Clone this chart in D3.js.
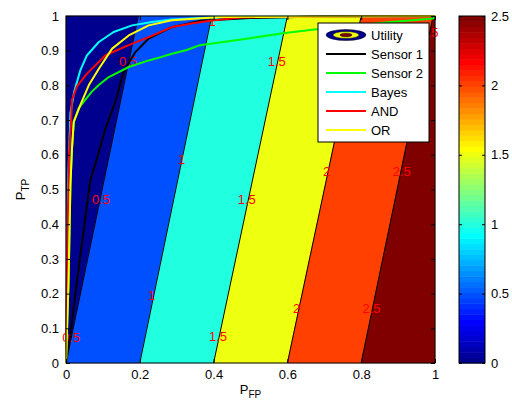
<!DOCTYPE html>
<html>
<head>
<meta charset="utf-8">
<script src="https://cdn.jsdelivr.net/npm/d3@7/dist/d3.min.js"></script>
<style>
  body { margin: 0; background: #fff; }
  text { font-family: "Liberation Sans", Arial, sans-serif; }
</style>
</head>
<body>
<div id="content"></div>
<script>
const levels = [0.5, 1, 1.5, 2, 2.5];
const levelXBottom = [0, 0.2, 0.4, 0.6, 0.8];
const levelXTop = [0.196, 0.395, 0.6, 0.8, 0.995];
const bandValues = [0, 0.5, 1, 1.5, 2, 2.5];

// inline contour labels
const labelText = ["0.5", "0.5", "0.5", "1", "1", "1", "1.5", "1.5", "1.5", "2", "2", "2.5", "2.5", "2.5"];
const labelX = [0.014, 0.095, 0.168, 0.232, 0.313, 0.396, 0.412, 0.49, 0.571, 0.625, 0.706, 0.828, 0.91, 0.985];
const labelY = [0.075, 0.473, 0.87, 0.196, 0.588, 0.985, 0.076, 0.473, 0.868, 0.157, 0.551, 0.157, 0.551, 0.954];

// ROC curves
const sensor1X = [0, 0.0136, 0.03, 0.048, 0.066, 0.084, 0.107, 0.134, 0.156, 0.188, 0.224, 0.26, 0.287, 0.363, 0.499, 0.715, 1];
const sensor1Y = [0, 0.095, 0.239, 0.383, 0.527, 0.59, 0.676, 0.753, 0.839, 0.896, 0.935, 0.954, 0.968, 0.986, 0.994, 0.999, 1];

const sensor2X = [0, 0.007, 0.012, 0.016, 0.021, 0.035, 0.052, 0.07, 0.089, 0.116, 0.17, 0.224, 0.246, 0.287, 0.327, 0.363, 0.499, 0.588, 0.679, 0.851, 0.995, 1];
const sensor2Y = [0, 0.239, 0.513, 0.614, 0.695, 0.735, 0.758, 0.782, 0.801, 0.824, 0.853, 0.872, 0.878, 0.891, 0.902, 0.916, 0.936, 0.95, 0.962, 0.98, 0.993, 1];

const bayesX = [0, 0.005, 0.012, 0.022, 0.039, 0.057, 0.089, 0.129, 0.179, 0.233, 0.287, 0.417, 1];
const bayesY = [0, 0.5, 0.72, 0.781, 0.844, 0.887, 0.925, 0.954, 0.973, 0.983, 0.99, 0.997, 1];

const andX = [0, 0.003, 0.008, 0.014, 0.016, 0.03, 0.057, 0.107, 0.17, 0.224, 0.287, 0.344, 0.39, 0.472, 1];
const andY = [0, 0.3, 0.6, 0.7, 0.758, 0.798, 0.834, 0.887, 0.916, 0.939, 0.968, 0.979, 0.986, 0.996, 1];

const orX = [0, 0.007, 0.012, 0.016, 0.021, 0.039, 0.062, 0.089, 0.125, 0.17, 0.224, 0.287, 0.417, 1];
const orY = [0, 0.239, 0.513, 0.614, 0.695, 0.744, 0.801, 0.848, 0.906, 0.944, 0.973, 0.988, 0.997, 1];

const seriesNames = ["Sensor 1", "Sensor 2", "Bayes", "AND", "OR"];
const seriesColors = ["#000000", "#00ff00", "#00ffff", "#ff0000", "#ffff00"];

const xTicks = [0, 0.2, 0.4, 0.6, 0.8, 1];
const yTicks = [0, 0.1, 0.2, 0.3, 0.4, 0.5, 0.6, 0.7, 0.8, 0.9, 1];
const cbTicks = [0, 0.5, 1, 1.5, 2, 2.5];

// MATLAB style jet(64)
function jet(k) {
    var t = k / 64;
    var c = function (v) { return Math.max(0, Math.min(1, v)); };
    var r = c(Math.min(4 * t - 1.5, -4 * t + 4.5));
    var g = c(Math.min(4 * t - 0.5, -4 * t + 3.5));
    var b = c(Math.min(4 * t + 0.5, -4 * t + 2.5));
    return d3.rgb(r * 255, g * 255, b * 255).formatHex();
}
function valueColor(v) {
    var k = Math.min(64, Math.floor(v / 2.5 * 64) + 1);
    return jet(k);
}

var width = 512, height = 401;
var padding = { top: 16, left: 66, right: 77, bottom: 38 };
var plotW = width - padding.left - padding.right;   // 369
var plotH = height - padding.top - padding.bottom;  // 347

var svg = d3.select("#content").append("svg")
    .attr("width", width)
    .attr("height", height);

var xScale = d3.scaleLinear().domain([0, 1]).range([padding.left, padding.left + plotW]);
var yScale = d3.scaleLinear().domain([0, 1]).range([padding.top + plotH, padding.top]);

// filled contour bands
var bands = [];
for (var i = 0; i < bandValues.length; i++) {
    var left = i == 0 ? [[0, 0], [0, 1]] : [[levelXBottom[i - 1], 0], [levelXTop[i - 1], 1]];
    var right = i == levels.length ? [[1, 1], [1, 0]] : [[levelXTop[i], 1], [levelXBottom[i], 0]];
    bands.push({ v: bandValues[i], pts: left.concat(right) });
}
svg.append("g").selectAll("polygon")
    .data(bands)
    .enter()
    .append("polygon")
    .attr("points", function (d) {
        return d.pts.map(function (p) { return xScale(p[0]) + "," + yScale(p[1]); }).join(" ");
    })
    .attr("fill", function (d) { return valueColor(d.v); })
    .attr("stroke", function (d) { return valueColor(d.v); })
    .attr("stroke-width", 0.5);

// contour lines
svg.append("g").selectAll("line")
    .data(levels)
    .enter()
    .append("line")
    .attr("x1", function (d, i) { return xScale(levelXBottom[i]); })
    .attr("y1", yScale(0))
    .attr("x2", function (d, i) { return xScale(levelXTop[i]); })
    .attr("y2", yScale(1))
    .attr("stroke", "#000")
    .attr("stroke-width", 1);

// contour labels
svg.append("g").selectAll("text")
    .data(labelText)
    .enter()
    .append("text")
    .attr("x", function (d, i) { return xScale(labelX[i]); })
    .attr("y", function (d, i) { return yScale(labelY[i]); })
    .attr("dy", "0.36em")
    .attr("text-anchor", "middle")
    .attr("fill", "#ff0000")
    .style("font-size", "13px")
    .text(function (d) { return d; });

// ROC curves
var curves = [
    { x: sensor1X, y: sensor1Y },
    { x: sensor2X, y: sensor2Y },
    { x: bayesX, y: bayesY },
    { x: andX, y: andY },
    { x: orX, y: orY }
];
var line = d3.line()
    .x(function (d) { return xScale(d[0]); })
    .y(function (d) { return yScale(d[1]); });
svg.append("g").selectAll("path")
    .data(curves)
    .enter()
    .append("path")
    .attr("d", function (d) { return line(d.x.map(function (v, i) { return [v, d.y[i]]; })); })
    .attr("fill", "none")
    .attr("stroke", function (d, i) { return seriesColors[i]; })
    .attr("stroke-width", 2)
    .attr("stroke-linejoin", "round");

// axes (inward ticks, box)
var tickLen = 4;
var xAxis = d3.axisBottom(xScale).tickValues(xTicks).tickSizeInner(-tickLen).tickSizeOuter(0).tickPadding(7)
    .tickFormat(d3.format("~g"));
var xAxisTop = d3.axisTop(xScale).tickValues(xTicks).tickSizeInner(-tickLen).tickSizeOuter(0).tickFormat("");
var yAxis = d3.axisLeft(yScale).tickValues(yTicks).tickSizeInner(-tickLen).tickSizeOuter(0).tickPadding(7)
    .tickFormat(d3.format("~g"));
var yAxisRight = d3.axisRight(yScale).tickValues(yTicks).tickSizeInner(-tickLen).tickSizeOuter(0).tickFormat("");

function styleAxis(g) {
    g.select(".domain").remove();
    g.selectAll("line").attr("stroke", "#000");
    g.selectAll("text").style("font-size", "13px").attr("fill", "#000")
        .style("font-family", "'Liberation Sans', Arial, sans-serif");
}
svg.append("g").attr("transform", "translate(0," + (padding.top + plotH) + ")").call(xAxis).call(styleAxis);
svg.append("g").attr("transform", "translate(0," + padding.top + ")").call(xAxisTop).call(styleAxis);
svg.append("g").attr("transform", "translate(" + padding.left + ",0)").call(yAxis).call(styleAxis);
svg.append("g").attr("transform", "translate(" + (padding.left + plotW) + ",0)").call(yAxisRight).call(styleAxis);

svg.append("rect")
    .attr("x", padding.left).attr("y", padding.top)
    .attr("width", plotW).attr("height", plotH)
    .attr("fill", "none").attr("stroke", "#000").attr("stroke-width", 1);

// axis labels
var xl = svg.append("text")
    .attr("x", xScale(0.5)).attr("y", 394)
    .attr("text-anchor", "middle")
    .style("font-size", "13px");
xl.append("tspan").text("P");
xl.append("tspan").attr("dy", 4).style("font-size", "10px").text("FP");

var yl = svg.append("text")
    .attr("transform", "translate(25," + yScale(0.5) + ") rotate(-90)")
    .attr("text-anchor", "middle")
    .style("font-size", "13px");
yl.append("tspan").text("P");
yl.append("tspan").attr("dy", 4).style("font-size", "10px").text("TP");

// legend
var lg = svg.append("g");
lg.append("rect")
    .attr("x", 318).attr("y", 23).attr("width", 111).attr("height", 119)
    .attr("fill", "#fff").attr("stroke", "#000").attr("stroke-width", 1);
var rowY = function (i) { return 35 + i * 19; };
lg.append("ellipse").attr("cx", 346).attr("cy", rowY(0)).attr("rx", 20).attr("ry", 5.5)
    .attr("fill", valueColor(0)).attr("stroke", "#000").attr("stroke-width", 0.5);
lg.append("ellipse").attr("cx", 346).attr("cy", rowY(0)).attr("rx", 13).attr("ry", 3.5)
    .attr("fill", valueColor(1.5)).attr("stroke", "#000").attr("stroke-width", 0.5);
lg.append("ellipse").attr("cx", 346).attr("cy", rowY(0)).attr("rx", 6).attr("ry", 1.8)
    .attr("fill", valueColor(2.5)).attr("stroke", "#000").attr("stroke-width", 0.5);
lg.append("text").attr("x", 371).attr("y", rowY(0)).attr("dy", "0.36em")
    .style("font-size", "13px").text("Utility");
seriesNames.forEach(function (name, i) {
    lg.append("line")
        .attr("x1", 326).attr("x2", 366)
        .attr("y1", rowY(i + 1)).attr("y2", rowY(i + 1))
        .attr("stroke", seriesColors[i]).attr("stroke-width", 2);
    lg.append("text").attr("x", 371).attr("y", rowY(i + 1)).attr("dy", "0.36em")
        .style("font-size", "13px").text(name);
});

// colorbar
var cbX = 459, cbW = 26;
var cbScale = d3.scaleLinear().domain([0, 2.5]).range([padding.top + plotH, padding.top]);
var steps = d3.range(1, 65);
svg.append("g").selectAll("rect")
    .data(steps)
    .enter()
    .append("rect")
    .attr("x", cbX)
    .attr("width", cbW)
    .attr("y", function (k) { return cbScale(k / 64 * 2.5); })
    .attr("height", function (k) { return cbScale((k - 1) / 64 * 2.5) - cbScale(k / 64 * 2.5) + 0.5; })
    .attr("fill", function (k) { return jet(k); });

var cbAxis = d3.axisRight(cbScale).tickValues(cbTicks).tickSizeInner(-3).tickSizeOuter(0).tickPadding(6)
    .tickFormat(d3.format("~g"));
var cbAxisL = d3.axisLeft(cbScale).tickValues(cbTicks).tickSizeInner(-3).tickSizeOuter(0).tickFormat("");
svg.append("g").attr("transform", "translate(" + (cbX + cbW) + ",0)").call(cbAxis).call(styleAxis);
svg.append("g").attr("transform", "translate(" + cbX + ",0)").call(cbAxisL).call(styleAxis);
svg.append("rect")
    .attr("x", cbX).attr("y", padding.top).attr("width", cbW).attr("height", plotH)
    .attr("fill", "none").attr("stroke", "#000").attr("stroke-width", 1);
</script>
</body>
</html>
